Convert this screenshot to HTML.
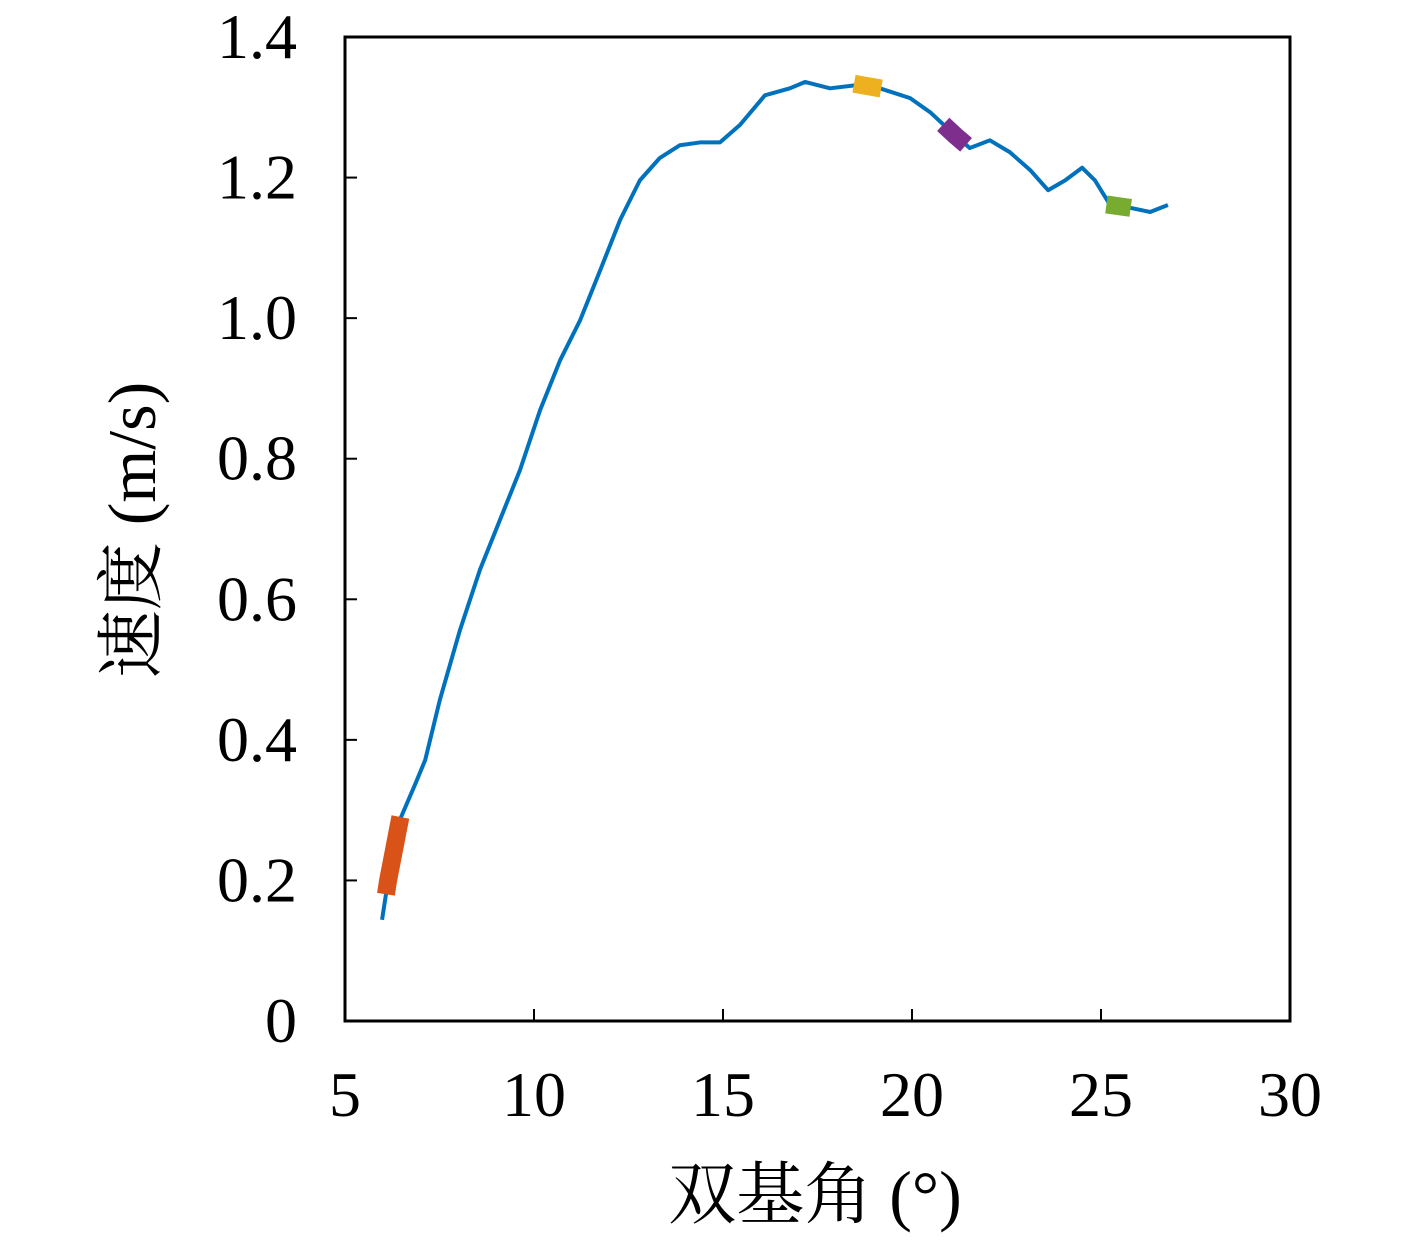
<!DOCTYPE html>
<html><head><meta charset="utf-8"><style>
body{margin:0;background:#fff}
text{font-family:"Liberation Serif","Noto Serif CJK SC",serif;fill:#000}
</style></head><body>
<svg id="chart" width="1417" height="1236">
<g id="axes"></g>
<g id="plot"></g>
</svg>
<script>
const xs=[5.98,6.14,6.45,6.85,7.12,7.51,8.04,8.57,9.10,9.63,10.16,10.69,11.22,11.75,12.28,12.80,13.33,13.86,14.39,14.92,15.45,16.11,16.77,17.17,17.83,18.62,19.15,19.95,20.48,21.14,21.53,22.06,22.59,23.12,23.6,24.05,24.5,24.84,25.24,25.77,26.3,26.77];
const ys=[0.144,0.20,0.286,0.336,0.371,0.457,0.556,0.642,0.713,0.784,0.869,0.940,0.997,1.068,1.140,1.196,1.228,1.246,1.25,1.25,1.275,1.317,1.327,1.336,1.327,1.332,1.327,1.313,1.293,1.26,1.242,1.253,1.236,1.211,1.182,1.196,1.214,1.196,1.161,1.157,1.151,1.161];
const highlightNames=['start-highlight','peak-highlight','mid-highlight','end-highlight'];
const highlightRanges=[[6.12,6.42],[18.7,18.95],[21.0,21.25],[25.38,25.55]];
const highlightColors=['#d95319','#edb120','#7e2f8e','#77ac30'];
const xTicks=[5,10,15,20,25,30];
const yTicks=[0,0.2,0.4,0.6,0.8,1.0,1.2,1.4];
const yTickLabels=['0','0.2','0.4','0.6','0.8','1.0','1.2','1.4'];

const L=345,R=1290,T=37,B=1021;
const X=v=>L+(v-5)/25*(R-L);
const Y=v=>B-v/1.4*(B-T);
const NS='http://www.w3.org/2000/svg';
function mk(t,a,p){const e=document.createElementNS(NS,t);for(const k in a)e.setAttribute(k,a[k]);p.appendChild(e);return e;}
const ax=document.getElementById('axes'),pl=document.getElementById('plot');
const frame=mk('rect',{x:L,y:T,width:R-L,height:B-T,fill:'none',stroke:'#000','stroke-width':3},ax);


xTicks.forEach(v=>{
 const t=mk('line',{x1:X(v),x2:X(v),y1:B,y2:B-12,stroke:'#000','stroke-width':2},ax);
 
 
 const l=mk('text',{x:X(v),y:1116,'text-anchor':'middle','font-size':64},ax);l.textContent=v;
 
 
});
yTicks.forEach((v,i)=>{
 const t=mk('line',{x1:L,x2:L+12,y1:Y(v),y2:Y(v),stroke:'#000','stroke-width':2},ax);
 
 
 const l=mk('text',{x:297,y:Y(v)+21,'text-anchor':'end','font-size':64},ax);l.textContent=yTickLabels[i];
 
 
});
const xt=mk('text',{x:815,y:1218,'text-anchor':'middle','font-size':68},ax);xt.textContent='双基角 (°)';


const yt=mk('text',{x:0,y:0,'text-anchor':'middle','font-size':68,transform:'translate(155,530) rotate(-90)'},ax);yt.textContent='速度 (m/s)';


const line=mk('polyline',{points:xs.map((v,i)=>X(v)+','+Y(ys[i])).join(' '),fill:'none',stroke:'#0072bd','stroke-width':4,'stroke-linejoin':'round'},pl);


function interp(v){for(let i=0;i<xs.length-1;i++){if(v>=xs[i]&&v<=xs[i+1]){return ys[i]+(ys[i+1]-ys[i])*(v-xs[i])/(xs[i+1]-xs[i]);}}return ys[ys.length-1];}
highlightRanges.forEach((r,k)=>{
 const pts=[[r[0],interp(r[0])]];
 xs.forEach((v,i)=>{if(v>r[0]&&v<r[1])pts.push([v,ys[i]]);});
 pts.push([r[1],interp(r[1])]);
 const h=mk('polyline',{points:pts.map(p=>X(p[0])+','+Y(p[1])).join(' '),fill:'none',stroke:highlightColors[k],'stroke-width':18,'stroke-linejoin':'round','stroke-linecap':'square'},pl);
 
 
});
</script>
</body></html>
